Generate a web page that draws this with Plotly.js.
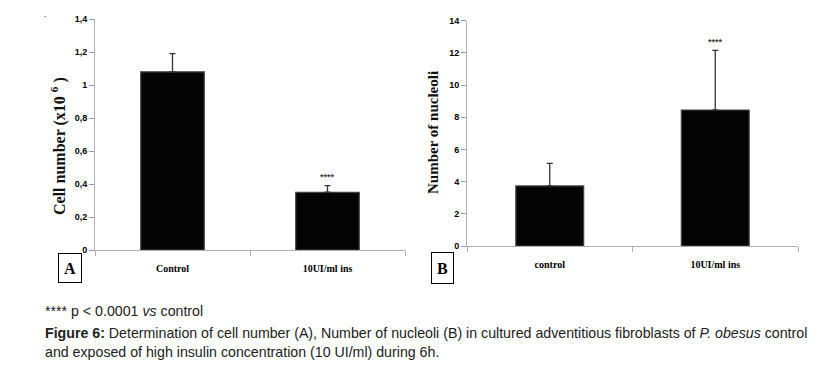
<!DOCTYPE html>
<html><head><meta charset="utf-8">
<script src="https://cdn.plot.ly/plotly-3.0.1.min.js"></script>
<style>html,body{margin:0;padding:0;background:#fff}#chart{width:816px;height:365px}</style>
</head><body><div id="chart"></div>
<script>
const catsA = ['Control', '10UI/ml ins'];
const valsA = [1.08, 0.35];
const errA = [0.11, 0.04];
const catsB = ['control', '10UI/ml ins'];
const valsB = [3.73, 8.45];
const errB = [1.41, 3.70];
const ticksA = [0, 0.2, 0.4, 0.6, 0.8, 1, 1.2, 1.4];
const ticksB = [0, 2, 4, 6, 8, 10, 12, 14];
const sigA = ['', '****'];
const sigB = ['', '****'];

const W = 816, H = 365;
const px = v => v / W, py = v => (H - v) / H;

const barStyle = {color: '#040404', line: {color: '#444', width: 1.2}};
const errStyle = {type: 'data', symmetric: false, arrayminus: [0, 0], color: '#333', thickness: 1.3, width: 3};

const traces = [
  {type: 'bar', x: catsA, y: valsA, xaxis: 'x', yaxis: 'y', width: 0.41, marker: barStyle,
   error_y: Object.assign({}, errStyle, {array: errA}), hoverinfo: 'none'},
  {type: 'bar', x: catsB, y: valsB, xaxis: 'x2', yaxis: 'y2', width: 0.41, marker: barStyle,
   error_y: Object.assign({}, errStyle, {array: errB}), hoverinfo: 'none'}
];

const tickFont = {family: 'Liberation Sans, Arial', size: 9, color: '#000', weight: 'bold'};
const catFont = {family: 'Liberation Serif, Times New Roman', size: 10, color: '#000', weight: 'bold'};

function yax(dom, anchor, ticks, range) {
  return {domain: dom, anchor: anchor, range: range, tickvals: ticks, showgrid: false, zeroline: false,
    showline: true, linecolor: '#b0b0b0', linewidth: 1, ticks: 'outside', ticklen: 5,
    tickcolor: '#999', tickfont: tickFont, fixedrange: true};
}
function xax(dom, anchor) {
  return {domain: dom, anchor: anchor, showgrid: false, zeroline: false, showline: true,
    linecolor: '#b0b0b0', linewidth: 1, ticks: 'outside', ticklen: 5, tickcolor: '#b0b0b0',
    tickson: 'boundaries', tickfont: catFont, ticklabelstandoff: 9, fixedrange: true};
}

const annotations = [];
const starFont = {family: 'Liberation Sans', size: 9, color: '#444', weight: 'bold'};
catsA.forEach((c, i) => { if (sigA[i]) annotations.push({xref: 'x', yref: 'y', x: c, y: valsA[i] + errA[i],
  text: sigA[i], showarrow: false, yshift: 9, font: starFont}); });
catsB.forEach((c, i) => { if (sigB[i]) annotations.push({xref: 'x2', yref: 'y2', x: c, y: valsB[i] + errB[i],
  text: sigB[i], showarrow: false, yshift: 8, font: starFont}); });

const P = {xref: 'paper', yref: 'paper', showarrow: false, xanchor: 'center', yanchor: 'middle'};
const capFont = {family: 'Liberation Sans, Arial', size: 14.2, color: '#222'};
annotations.push(
  Object.assign({}, P, {x: px(58), y: py(146), text: 'Cell number (x10 <sup>6</sup> )', textangle: -90,
   font: {family: 'Liberation Serif, Times New Roman', size: 16, color: '#111', weight: 'bold'}}),
  Object.assign({}, P, {x: px(433), y: py(133), text: 'Number of nucleoli', textangle: -90,
   font: {family: 'Liberation Serif, Times New Roman', size: 15, color: '#111', weight: 'bold'}}),
  Object.assign({}, P, {x: px(69.5), y: py(268.5), text: 'A', bordercolor: '#000', borderwidth: 1,
   borderpad: 0, width: 22, height: 28, font: {family: 'Liberation Serif, Times New Roman', size: 16, color: '#000', weight: 'bold'}}),
  Object.assign({}, P, {x: px(443), y: py(267.5), text: 'B', bordercolor: '#000', borderwidth: 1,
   borderpad: 0, width: 21, height: 30, font: {family: 'Liberation Serif, Times New Roman', size: 16, color: '#000', weight: 'bold'}}),
  Object.assign({}, P, {x: px(45), y: py(14), text: '.', font: {size: 8, color: '#000'}}),
  Object.assign({}, P, {x: px(43), y: py(311), xanchor: 'left', text: '**** p < 0.0001 <i>vs</i> control', font: capFont}),
  Object.assign({}, P, {x: px(43), y: py(333), xanchor: 'left',
   text: '<b>Figure 6:</b> Determination of cell number (A), Number of nucleoli (B) in cultured adventitious fibroblasts of <i>P. obesus</i> control',
   font: capFont}),
  Object.assign({}, P, {x: px(43), y: py(352), xanchor: 'left',
   text: 'and exposed of high insulin concentration (10 UI/ml) during 6h.', font: capFont})
);

const layout = {
  width: W, height: H, margin: {l: 0, r: 0, t: 0, b: 0}, paper_bgcolor: '#fff', plot_bgcolor: '#fff',
  showlegend: false, separators: ',.',
  xaxis: xax([px(95), px(405)], 'y'),
  yaxis: yax([py(250), py(19)], 'x', ticksA, [0, 1.4]),
  xaxis2: xax([px(467), px(798)], 'y2'),
  yaxis2: yax([py(246), py(20.7)], 'x2', ticksB, [0, 14]),
  annotations: annotations
};

Plotly.newPlot('chart', traces, layout, {staticPlot: true, displayModeBar: false});
</script></body></html>
